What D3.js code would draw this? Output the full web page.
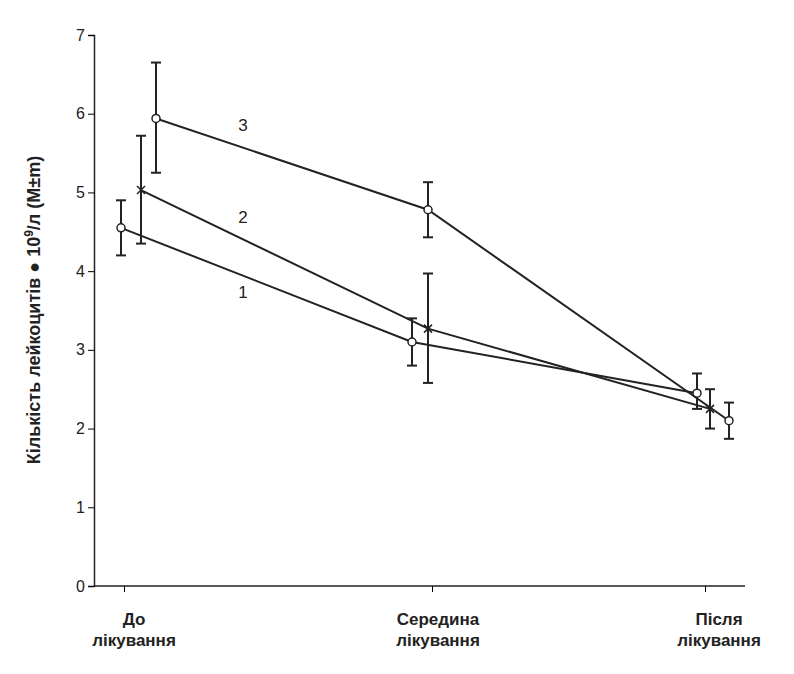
<!DOCTYPE html>
<html><head><meta charset="utf-8">
<script src="https://cdn.jsdelivr.net/npm/d3@7"></script>
<style>body{margin:0;background:#fff}</style></head>
<body><svg id="c" width="794" height="674"></svg>
<script>
var categories = [["До","лікування"],["Середина","лікування"],["Після","лікування"]];
var yTicks = [0,1,2,3,4,5,6,7];
var s1 = {name:"1", marker:"circle", mean:[4.55,3.1,2.45], lo:[4.2,2.8,2.25], hi:[4.9,3.4,2.7], shift:[-3,-20,-8]};
var s2 = {name:"2", marker:"cross", mean:[5.03,3.27,2.25], lo:[4.35,2.58,2.0], hi:[5.72,3.97,2.5], shift:[17,-4,5]};
var s3 = {name:"3", marker:"circle", mean:[5.94,4.78,2.1], lo:[5.25,4.43,1.87], hi:[6.65,5.13,2.33], shift:[32,-4,24]};
var series = [s1,s2,s3];
var labelPos = [[243,3.66],[243,4.61],[243,5.78]];

var svg = d3.select("#c");
var x = d3.scaleLinear().domain([0,1,2]).range([124,432,705]);
var y = d3.scaleLinear().domain([0,7]).range([586,35]);

svg.append("g").attr("transform","translate(94,0)")
  .call(d3.axisLeft(y).tickValues(yTicks).tickSize(6).tickFormat(d3.format("d")))
  .call(g=>{g.select(".domain").attr("stroke","#222").attr("stroke-width",1.5);
    g.selectAll("text").attr("font-family","Liberation Sans").attr("font-size",16).attr("fill","#222");});
svg.append("g").attr("transform","translate(0,586)")
  .call(d3.axisBottom(x).tickValues([0,1,2]).tickSize(6).tickFormat(""))
  .call(g=>g.select(".domain").attr("d","M94,0H745").attr("stroke","#222").attr("stroke-width",1.5));

var xl = svg.append("g");
categories.forEach(function(c,i){
  var cx = x(i)+(i==0?10:(i==1?6:14));
  var t = xl.append("text").attr("y",625).attr("text-anchor","middle")
    .attr("font-family","Liberation Sans").attr("font-weight","bold").attr("font-size",17).attr("fill","#222");
  t.append("tspan").attr("x",cx).text(c[0]);
  t.append("tspan").attr("x",cx).attr("dy",21).text(c[1]);
});

svg.append("text").attr("transform","translate(40,310) rotate(-90)").attr("text-anchor","middle")
  .attr("font-family","Liberation Sans").attr("font-weight","bold").attr("font-size",18).attr("fill","#222")
  .html("Кількість лейкоцитів ● 10<tspan dy='-7' font-size='12'>9</tspan><tspan dy='7'>/л (M±m)</tspan>");

series.forEach(function(s,k){
  var pts = s.mean.map(function(m,i){return [x(i)+s.shift[i], y(m), i];});
  svg.append("path").attr("d",d3.line()(pts.map(p=>[p[0],p[1]]))).attr("fill","none").attr("stroke","#222").attr("stroke-width",2);
  pts.forEach(function(p){
    var i=p[2], g=svg.append("g").attr("stroke","#222").attr("stroke-width",2);
    g.append("line").attr("x1",p[0]).attr("x2",p[0]).attr("y1",y(s.lo[i])).attr("y2",y(s.hi[i]));
    [s.lo[i],s.hi[i]].forEach(v=>g.append("line").attr("x1",p[0]-5).attr("x2",p[0]+5).attr("y1",y(v)).attr("y2",y(v)));
    if(s.marker=="circle") g.append("circle").attr("cx",p[0]).attr("cy",p[1]).attr("r",4).attr("fill","#fff").attr("stroke-width",1.5);
    else g.append("path").attr("d","M"+(p[0]-4)+","+(p[1]-4)+"L"+(p[0]+4)+","+(p[1]+4)+"M"+(p[0]+4)+","+(p[1]-4)+"L"+(p[0]-4)+","+(p[1]+4)).attr("stroke-width",1.5);
  });
  svg.append("text").attr("x",labelPos[k][0]).attr("y",y(labelPos[k][1])).attr("text-anchor","middle")
    .attr("font-family","Liberation Sans").attr("font-size",17).attr("fill","#222").text(s.name);
});
</script></body></html>
